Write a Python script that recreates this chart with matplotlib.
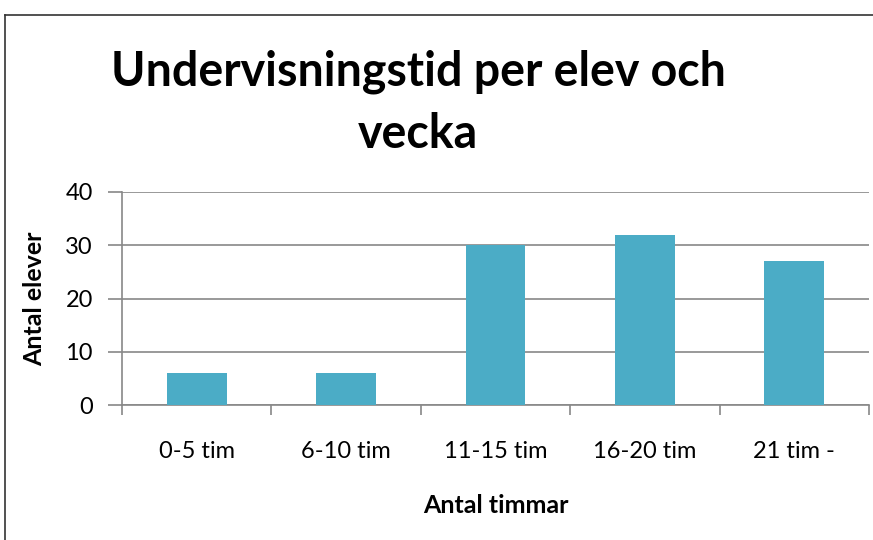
"""
Undervisningstid per elev och vecka - bar chart.
"""

import numpy as np
import matplotlib
matplotlib.use("Agg")
import matplotlib.pyplot as plt
from matplotlib.lines import Line2D

categories = ["0-5 tim", "6-10 tim", "11-15 tim", "16-20 tim", "21 tim -"]
students = [6, 6, 30, 32, 27]
yticks = [0, 10, 20, 30, 40]

plt.rcParams["font.family"] = ["Lato", "DejaVu Sans"]

fig = plt.figure(figsize=(8.73, 5.40), dpi=100)
ax = fig.add_axes([122 / 873, 1 - 405 / 540, (869 - 122) / 873, (405 - 192) / 540])

x = np.arange(len(categories))
ax.bar(x, students, width=0.4, color="#4BACC6", zorder=3)

ax.set_xlim(-0.5, len(categories) - 0.5)
ax.set_ylim(0, 40)
ax.set_yticks(yticks)
ax.yaxis.grid(True, color="#888888", lw=1.2, zorder=0)

# category labels centred, tick marks between categories
ax.set_xticks(x)
ax.set_xticklabels(categories, fontsize=17)
ax.set_xticks(np.arange(-0.5, len(categories)), minor=True)
ax.tick_params(axis="x", which="major", length=0, pad=26)
ax.tick_params(axis="x", which="minor", length=7, color="#888888", width=1.2)
ax.tick_params(axis="y", length=10, color="#888888", width=1.2,
               labelsize=17, pad=11)

for side in ["top", "right"]:
    ax.spines[side].set_visible(False)
for side in ["left", "bottom"]:
    ax.spines[side].set_color("#888888")
    ax.spines[side].set_linewidth(1.2)

ax.set_xlabel("Antal timmar", fontsize=18, fontweight="bold", labelpad=23)
ax.set_ylabel("Antal elever", fontsize=18, fontweight="bold", labelpad=14)

fig.text(418 / 873, 1 - 103 / 540, "Undervisningstid per elev och\nvecka",
         ha="center", va="center", fontsize=33.5, fontweight="bold",
         linespacing=1.5)

# chart border (top and left edges visible)
fig.add_artist(Line2D([5 / 873, 5 / 873], [0, 1 - 15 / 540],
                      transform=fig.transFigure, color="#333333", lw=1.2))
fig.add_artist(Line2D([5 / 873, 1], [1 - 15 / 540, 1 - 15 / 540],
                      transform=fig.transFigure, color="#333333", lw=1.2))

fig.savefig("out.png", dpi=100)
